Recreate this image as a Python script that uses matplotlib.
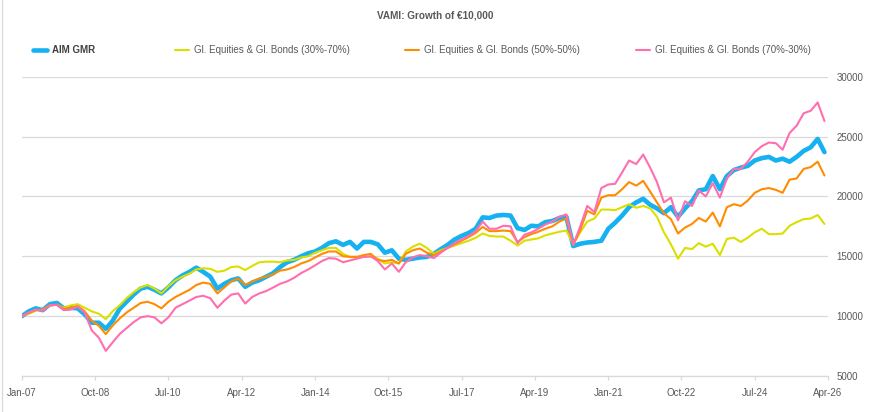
import numpy as np
import pandas as pd
import matplotlib
matplotlib.use("Agg")
import matplotlib.pyplot as plt
import matplotlib.dates as mdates
from matplotlib.lines import Line2D
from matplotlib.ticker import FuncFormatter

# ── data: growth of 10,000, every second month, Jan-07 .. Mar-26 ─────────
dates = pd.date_range("2007-01-01", periods=116, freq="2MS")

aim_gmr = [
    10000, 10400, 10650, 10500, 11000, 11100, 10650, 10700, 10650, 10150,
    9450, 9450, 8950, 9600, 10600, 11200, 11800, 12300, 12450, 12200,
    11900, 12400, 13000, 13400, 13700, 14050, 13700, 13300, 12300, 12700,
    13000, 13150, 12450, 12800, 13000, 13300, 13600, 14100, 14500, 14700,
    15000, 15250, 15400, 15700, 16100, 16250, 15950, 16200, 15650, 16200,
    16200, 16000, 15300, 15500, 14800, 14700, 14800, 14900, 14950, 15200,
    15600, 15950, 16400, 16700, 16950, 17300, 18250, 18200, 18400, 18450,
    18400, 17350, 17200, 17550, 17500, 17850, 17950, 18200, 18300, 15850,
    16050, 16150, 16200, 16300, 17300, 17800, 18400, 19100, 19500, 19800,
    19300, 19000, 18600, 19100, 18300, 19000, 19600, 20500, 20600, 21700,
    20600, 21700, 22200, 22400, 22550, 23000, 23200, 23300, 23000, 23150,
    22900, 23300, 23800, 24100, 24800, 23700,
]
eq_bd_30_70 = [
    10000, 10200, 10450, 10550, 10900, 10950, 10700, 10900, 11000, 10700,
    10400, 10200, 9750, 10400, 10900, 11500, 12000, 12400, 12600, 12300,
    11900, 12500, 13000, 13300, 13550, 13900, 14000, 13950, 13700, 13800,
    14100, 14150, 13850, 14200, 14500, 14550, 14550, 14500, 14650, 14700,
    14900, 15000, 15300, 15500, 15700, 15700, 15200, 14950, 14950, 14950,
    14950, 14800, 14400, 14500, 14400, 15400, 15800, 16050, 15700, 15200,
    15500, 15700, 15900, 16100, 16300, 16550, 16900, 16700, 16650, 16650,
    16300, 15900, 16300, 16400, 16500, 16750, 16900, 17050, 17150, 16000,
    17000, 17900, 18150, 18900, 18900, 18850, 19100, 19350, 19050, 19200,
    19000, 18300, 17000, 16000, 14800, 15700, 15600, 16100, 15800, 16050,
    15100, 16450, 16550, 16200, 16550, 17000, 17300, 16850, 16850, 16900,
    17550, 17850, 18100, 18150, 18450, 17700,
]
eq_bd_50_50 = [
    10000, 10250, 10500, 10550, 10900, 10950, 10600, 10700, 10850, 10400,
    9600, 9200, 8500, 9200, 9800, 10300, 10700, 11100, 11200, 11000,
    10650, 11200, 11600, 11900, 12200, 12600, 12800, 12700, 11900, 12400,
    12900, 13150, 12600, 12900, 13150, 13300, 13500, 13800, 13900, 14100,
    14400, 14600, 14900, 15200, 15400, 15400, 15000, 14950, 14950, 15100,
    15200, 14700, 14600, 14700, 14400, 15200, 15500, 15650, 15300, 15100,
    15400, 15700, 16000, 16300, 16600, 16950, 17450, 17100, 17100, 17150,
    17100, 16200, 16600, 16850, 17050, 17300, 17500, 17900, 18150, 15950,
    17200, 18800, 18500, 19900, 20100, 20100, 20600, 21200, 20900, 21300,
    20400, 19500, 18600, 18100, 16900, 17400, 17700, 18200, 17900, 18650,
    17500, 19100, 19350, 19200, 19650, 20300, 20600, 20700, 20550, 20300,
    21400, 21500, 22300, 22450, 22900, 21750,
]
eq_bd_70_30 = [
    10000, 10300, 10550, 10450, 10900, 10950, 10500, 10550, 10800, 10300,
    8800, 8200, 7100, 7800, 8500, 9000, 9500, 9900, 10000, 9900,
    9400, 9900, 10700, 11000, 11300, 11600, 11700, 11500, 10700, 11300,
    11800, 11900, 11050, 11600, 11900, 12100, 12400, 12700, 12900, 13200,
    13600, 13900, 14250, 14600, 14850, 14800, 14500, 14650, 14800, 14950,
    15000, 14600, 13900, 14400, 13700, 14500, 14900, 15100, 15000, 14850,
    15300, 15700, 16100, 16400, 16700, 17100, 17900, 17300, 17300, 17550,
    17500, 16100, 16800, 17000, 17300, 17650, 17900, 18300, 18500, 15950,
    17500, 19200, 18700, 20700, 21000, 21050, 22000, 23000, 22700, 23500,
    22400, 21200, 19500, 19900, 18000, 19600, 19200, 20500, 20000, 21100,
    19900, 21500, 22300, 22300, 22900, 23700, 24200, 24500, 24450, 23900,
    25300, 25900, 26950, 27150, 27850, 26300,
]

series_names = ["AIM GMR",
                "Gl. Equities & Gl. Bonds (30%-70%)",
                "Gl. Equities & Gl. Bonds (50%-50%)",
                "Gl. Equities & Gl. Bonds (70%-30%)"]
series_colors = ["#16B1F0", "#DADF00", "#FF8C00", "#FF6EAE"]
series_widths = [3.3, 1.5, 1.5, 1.5]

tick_dates = pd.date_range("2007-01-01", "2026-04-01", freq="21MS")

grey = "#595959"
grid = "#D9D9D9"
W, H = 870, 412

fig = plt.figure(figsize=(8.7, 4.12), dpi=100)
ax = fig.add_axes([22 / W, 1 - 376 / H, (828 - 22) / W, (376 - 76.7) / H])

for vals, name, col, lw in zip([aim_gmr, eq_bd_30_70, eq_bd_50_50, eq_bd_70_30],
                               series_names, series_colors, series_widths):
    ax.plot(dates, vals, color=col, lw=lw, label=name,
            solid_joinstyle="round", solid_capstyle="round")

ax.set_xlim(pd.Timestamp("2007-01-01"), pd.Timestamp("2026-04-01"))
ax.set_ylim(5000, 30000)
ax.set_yticks(np.arange(5000, 30001, 5000))
ax.yaxis.tick_right()
ax.yaxis.set_major_formatter(FuncFormatter(lambda v, p: f"{int(v)}"))
ax.set_xticks(tick_dates)
ax.xaxis.set_major_formatter(mdates.DateFormatter("%b-%y"))

ax.grid(axis="y", color=grid, lw=0.9)
ax.set_axisbelow(True)
for s in ["top", "left", "right"]:
    ax.spines[s].set_visible(False)
ax.spines["bottom"].set_color(grid)
ax.spines["bottom"].set_linewidth(0.9)
ax.tick_params(axis="y", length=0, pad=6, labelsize=7, labelcolor=grey)
ax.tick_params(axis="x", length=3, width=0.9, color=grid, pad=6,
               labelsize=7, labelcolor=grey)
for lab in ax.get_xticklabels() + ax.get_yticklabels():
    lab.set_family("Liberation Sans")

fig.text(0.5, 1 - 16 / H, "VAMI: Growth of €10,000", ha="center", va="center",
         fontsize=7.2, fontweight="bold", color=grey, family="Liberation Sans")

# legend drawn by hand so the entries sit where the reference has them
leg_y = 1 - 50 / H
leg_x = [33, 175, 405, 636]
for i, (x0, name, col, lw) in enumerate(zip(leg_x, series_names, series_colors, series_widths)):
    fig.add_artist(Line2D([x0 / W, (x0 + 14) / W], [leg_y, leg_y], color=col, lw=lw,
                          solid_capstyle="round", transform=fig.transFigure))
    fig.text((x0 + 19) / W, leg_y, name, ha="left", va="center", fontsize=7,
             family="Liberation Sans", color="#404040" if i == 0 else grey,
             fontweight="bold" if i == 0 else "normal")

fig.add_artist(Line2D([2 / W, 2 / W], [0, 1], color=grid, lw=0.9,
                      transform=fig.transFigure))

fig.savefig("out.png", dpi=100)
